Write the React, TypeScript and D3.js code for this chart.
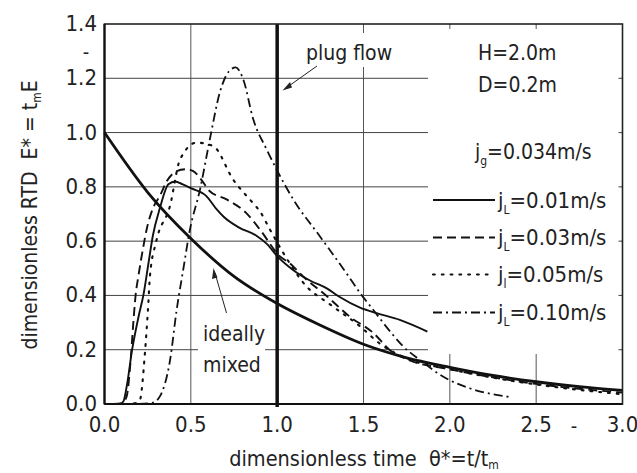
import React from "react";
import * as d3 from "d3";

const xTicks = [0, 0.5, 1.0, 1.5, 2.0, 2.5, 3.0];
const yTicks = [0, 0.2, 0.4, 0.6, 0.8, 1.0, 1.2, 1.4];

const idealX = [0, 0.25, 0.5, 0.75, 1.0, 1.25, 1.5, 1.75, 2.0, 2.25, 2.5, 2.75, 3.0];
const idealY = [1.0, 0.78, 0.61, 0.47, 0.37, 0.29, 0.22, 0.17, 0.135, 0.105, 0.082, 0.064, 0.05];

const jl001X = [0.05, 0.09, 0.11, 0.13, 0.16, 0.2, 0.225, 0.255, 0.28, 0.32, 0.37, 0.41, 0.45, 0.5, 0.59, 0.65, 0.69, 0.78, 0.88, 0.94, 1.0, 1.09, 1.19, 1.29, 1.36, 1.48, 1.575, 1.71, 1.87];
const jl001Y = [0, 0, 0.01, 0.07, 0.2, 0.33, 0.4, 0.52, 0.62, 0.72, 0.81, 0.82, 0.81, 0.795, 0.766, 0.717, 0.69, 0.65, 0.62, 0.59, 0.545, 0.495, 0.455, 0.425, 0.395, 0.355, 0.335, 0.31, 0.267];

const jl003X = [0.05, 0.1, 0.128, 0.15, 0.167, 0.18, 0.196, 0.225, 0.244, 0.28, 0.32, 0.36, 0.418, 0.47, 0.514, 0.56, 0.61, 0.707, 0.82, 0.9, 1.016, 1.07, 1.15, 1.29, 1.42, 1.56, 1.65, 1.75, 2.0, 2.25, 2.5, 2.75, 3.0];
const jl003Y = [0, 0.003, 0.027, 0.15, 0.3, 0.4, 0.47, 0.58, 0.643, 0.72, 0.766, 0.82, 0.858, 0.865, 0.858, 0.827, 0.784, 0.754, 0.704, 0.643, 0.544, 0.52, 0.47, 0.396, 0.322, 0.26, 0.2, 0.165, 0.128, 0.098, 0.074, 0.056, 0.042];

const jl005X = [0.12, 0.18, 0.205, 0.234, 0.254, 0.263, 0.3, 0.379, 0.437, 0.534, 0.63, 0.745, 0.86, 0.9, 0.958, 1.035, 1.17, 1.3, 1.48, 1.6, 1.75, 2.0, 2.25, 2.5, 2.75, 3.0];
const jl005Y = [0, 0.003, 0.015, 0.187, 0.372, 0.47, 0.6, 0.729, 0.9, 0.963, 0.95, 0.827, 0.74, 0.71, 0.643, 0.557, 0.433, 0.37, 0.286, 0.22, 0.168, 0.128, 0.097, 0.072, 0.052, 0.036];

const jl010X = [0.2, 0.28, 0.32, 0.38, 0.418, 0.456, 0.495, 0.553, 0.61, 0.668, 0.72, 0.76, 0.803, 0.861, 0.939, 0.997, 1.093, 1.247, 1.4, 1.48, 1.556, 1.67, 1.73, 1.826, 1.96, 2.115, 2.356];
const jl010Y = [0, 0.005, 0.027, 0.163, 0.347, 0.495, 0.643, 0.79, 0.975, 1.148, 1.225, 1.24, 1.197, 1.05, 0.938, 0.864, 0.754, 0.618, 0.483, 0.409, 0.347, 0.255, 0.212, 0.163, 0.101, 0.058, 0.025];

const legendVals = ["0.01m/s", "0.03m/s", "0.05m/s", "0.10m/s"];
const legendSubs = ["L", "L", "l", "L"];

const FONT = "'DejaVu Sans Condensed', 'Liberation Sans Narrow', sans-serif";

const zip = (xs: number[], ys: number[]) => xs.map((x, i) => [x, ys[i]] as [number, number]);

export default function App() {
  const W = 637, H = 473;
  const left = 104.5, right = 622.5, top = 24, bottom = 404;
  const x = d3.scaleLinear().domain([0, 3]).range([left, right]);
  const y = d3.scaleLinear().domain([0, 1.4]).range([bottom, top]);
  const line = d3.line<[number, number]>().x(d => x(d[0])).y(d => y(d[1])).curve(d3.curveMonotoneX);

  const series = [
    { d: zip(jl001X, jl001Y), dash: "none", w: 1.9 },
    { d: zip(jl003X, jl003Y), dash: "9,5", w: 1.9 },
    { d: zip(jl005X, jl005Y), dash: "1.8,7", w: 2.1 },
    { d: zip(jl010X, jl010Y), dash: "9,4,2,4", w: 1.8 },
  ];

  const boxX = 428, boxY2 = 354;
  const legY = [200, 237.5, 274.5, 312.5];

  return (
    <svg width={W} height={H} style={{ position: "absolute", left: 0, top: 0, background: "#fff" }} fontFamily={FONT}>
      <rect x={0} y={0} width={W} height={H} fill="#fff" />
      {/* grid */}
      {xTicks.slice(1, -1).map(t => (
        <line key={"gx" + t} x1={x(t)} x2={x(t)} y1={top} y2={bottom} stroke="#555" strokeWidth={1} />
      ))}
      {yTicks.slice(1, -1).map(t => (
        <line key={"gy" + t} x1={left} x2={right} y1={y(t)} y2={y(t)} stroke="#444" strokeWidth={1} />
      ))}
      {/* legend blank region */}
      <rect x={boxX} y={top + 1} width={right - boxX - 1} height={boxY2 - top - 1} fill="#fff" />
      {/* top ticks and right ticks inside box */}
      {[2.0, 2.5].map(t => (
        <line key={"tt" + t} x1={x(t)} x2={x(t)} y1={top} y2={top + 5} stroke="#555" strokeWidth={1} />
      ))}
      {yTicks.slice(1, -1).map(t => (
        <line key={"rt" + t} x1={right - 4} x2={right} y1={y(t)} y2={y(t)} stroke="#444" strokeWidth={1} />
      ))}
      {/* plug flow label box */}
      <rect x={303} y={33} width={101} height={34} fill="#fff" />
      {/* ideally mixed label box */}
      <rect x={198} y={318} width={67} height={60} fill="#fff" />
      {/* curves */}
      <path d={line(zip(idealX, idealY)) || ""} fill="none" stroke="#111" strokeWidth={2.8} />
      {series.map((s, i) => (
        <path key={i} d={line(s.d) || ""} fill="none" stroke="#111" strokeWidth={s.w}
          strokeDasharray={s.dash} strokeLinecap={i === 2 ? "round" : "butt"} />
      ))}
      {/* plug flow */}
      <line x1={x(1)} x2={x(1)} y1={top} y2={bottom + 3} stroke="#111" strokeWidth={3.5} />
      {/* frame */}
      <rect x={left} y={top} width={right - left} height={bottom - top} fill="none" stroke="#222" strokeWidth={1.6} />
      <line x1={left} x2={right} y1={bottom} y2={bottom} stroke="#111" strokeWidth={2.2} />
      <line x1={left} x2={left} y1={top} y2={bottom} stroke="#111" strokeWidth={2.2} />
      {/* tick labels */}
      {yTicks.map(t => (
        <text key={"yl" + t} x={97} y={y(t) + 7} textAnchor="end" fontSize={22} fill="#222">{t.toFixed(1)}</text>
      ))}
      {xTicks.map(t => (
        <text key={"xl" + t} x={x(t)} y={432} textAnchor="middle" fontSize={22} fill="#222">{t.toFixed(1)}</text>
      ))}
      <text x={86} y={59} textAnchor="middle" fontSize={20} fill="#222">-</text>
      <text x={574} y={433} textAnchor="middle" fontSize={20} fill="#222">-</text>
      {/* axis titles */}
      <text x={364} y={466} textAnchor="middle" fontSize={21.5} fill="#222" style={{ whiteSpace: "pre" }}>
        {"dimensionless time  θ*=t/t"}
        <tspan fontSize={12} dy={3}>m</tspan>
      </text>
      <text transform="translate(37,215) rotate(-90)" textAnchor="middle" fontSize={21} fill="#222" style={{ whiteSpace: "pre" }}>
        {"dimensionless RTD  E* = t"}
        <tspan fontSize={12} dy={4}>m</tspan>
        <tspan dy={-4}>E</tspan>
      </text>
      {/* annotations */}
      <text x={306} y={60} fontSize={21} fill="#222">plug flow</text>
      <line x1={317} y1={66} x2={286} y2={88} stroke="#222" strokeWidth={1} />
      <path d="M282.5,90.5 L290,82 L292,87.5 Z" fill="#222" />
      <text x={203} y={341} fontSize={21} fill="#222">ideally</text>
      <text x={203} y={372} fontSize={21} fill="#222">mixed</text>
      <line x1={226.5} y1={313} x2={215} y2={273} stroke="#222" strokeWidth={1} />
      <path d="M213.5,268 L212,279 L217.5,277.5 Z" fill="#222" />
      {/* legend text */}
      <text x={478} y={60} fontSize={21} fill="#222">H=2.0m</text>
      <text x={478} y={92} fontSize={21} fill="#222">D=0.2m</text>
      <text x={475} y={159} fontSize={21} fill="#222">
        j<tspan fontSize={12} dy={6}>g</tspan><tspan dy={-6}>=0.034m/s</tspan>
      </text>
      {series.map((s, i) => (
        <g key={"lg" + i}>
          <line x1={433} x2={i === 2 ? 490 : 495} y1={legY[i]} y2={legY[i]} stroke="#111" strokeWidth={s.w}
            strokeDasharray={s.dash} strokeLinecap={i === 2 ? "round" : "butt"} />
          <text x={498} y={legY[i] + 7.5} fontSize={22} fill="#222">
            j<tspan fontSize={12} dy={6}>{legendSubs[i]}</tspan><tspan dy={-6}>={legendVals[i]}</tspan>
          </text>
        </g>
      ))}
    </svg>
  );
}
